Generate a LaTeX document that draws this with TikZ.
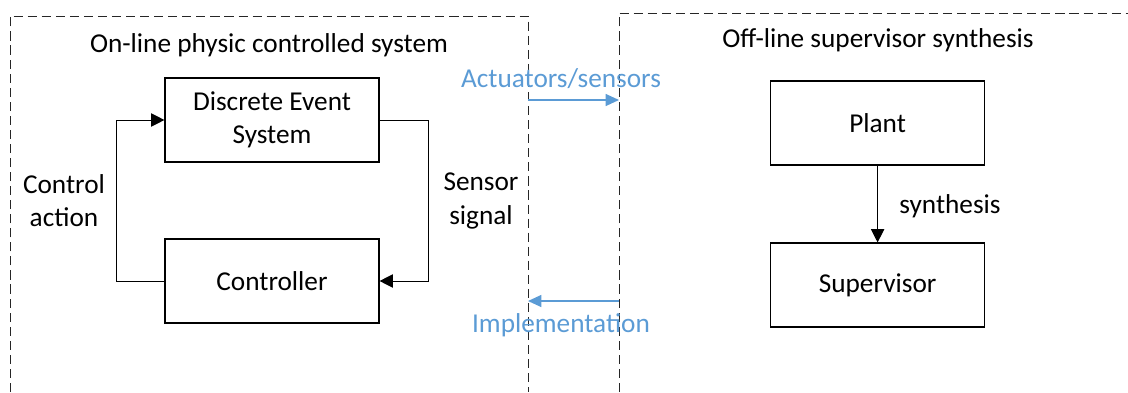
\documentclass[tikz,border=0pt]{standalone}
\usepackage{fontspec}
\setmainfont{Carlito}
\usetikzlibrary{arrows.meta}
\definecolor{linkblue}{RGB}{91,155,213}

\begin{document}
\begin{tikzpicture}[
    every node/.style={font=\fontsize{19.4}{23.5}\selectfont},
    block/.style={draw,line width=0.8pt,minimum width=5.35cm,minimum height=2.1cm,align=center},
    flow/.style={line width=0.7pt,-{Triangle[length=9.5pt,width=9.5pt]}},
    link/.style={linkblue,line width=1pt,-{Triangle[length=9.5pt,width=8.5pt]}},
    region/.style={black!85,line width=0.7pt,dash pattern=on 6.5pt off 3.5pt}]
    \useasboundingbox (0,0) rectangle (28.2,9.8);

    % Dashed regions
    \draw[region] (0.25,0) -- (0.25,9.4) -- (13.2,9.4) -- (13.2,0);
    \draw[region] (15.475,0) -- (15.475,9.475) -- (28.2,9.475);
    \node[anchor=base] (online) at (6.725,8.5) {On-line physic controlled system};
    \node[anchor=base] (offline) at (21.95,8.625) {Off-line supervisor synthesis};

    % Control loop
    \node[block] (des) at (6.8,6.8) {Discrete Event\\System};
    \node[block] (ctrl) at (6.8,2.775) {Controller};
    \draw[flow] (ctrl.west) -- ++(-1.2,0) |- (des.west);
    \draw[flow] (des.east) -- ++(1.225,0) |- (ctrl.east);
    \node[align=center] (action) at (1.6,4.775) {Control\\action};
    \node[align=center] (signal) at (12.025,4.775) {Sensor\\signal};

    % Synthesis
    \node[block] (plant) at (21.94,6.725) {Plant};
    \node[block] (sup) at (21.94,2.675) {Supervisor};
    \draw[flow] (plant) -- (sup);
    \node[anchor=base] (synth) at (23.75,4.475) {synthesis};

    % Exchanges between both sides
    \coordinate (actL) at (13.2,7.3);
    \coordinate (actR) at (15.475,7.3);
    \coordinate (impR) at (15.475,2.275);
    \coordinate (impL) at (13.2,2.275);
    \draw[link] (actL) -- (actR);
    \draw[link] (impR) -- (impL);
    \node[linkblue,anchor=base] (act) at (14.025,7.625) {Actuators/sensors};
    \node[linkblue,anchor=base] (impl) at (14.025,1.5) {Implementation};
\end{tikzpicture}
\end{document}
